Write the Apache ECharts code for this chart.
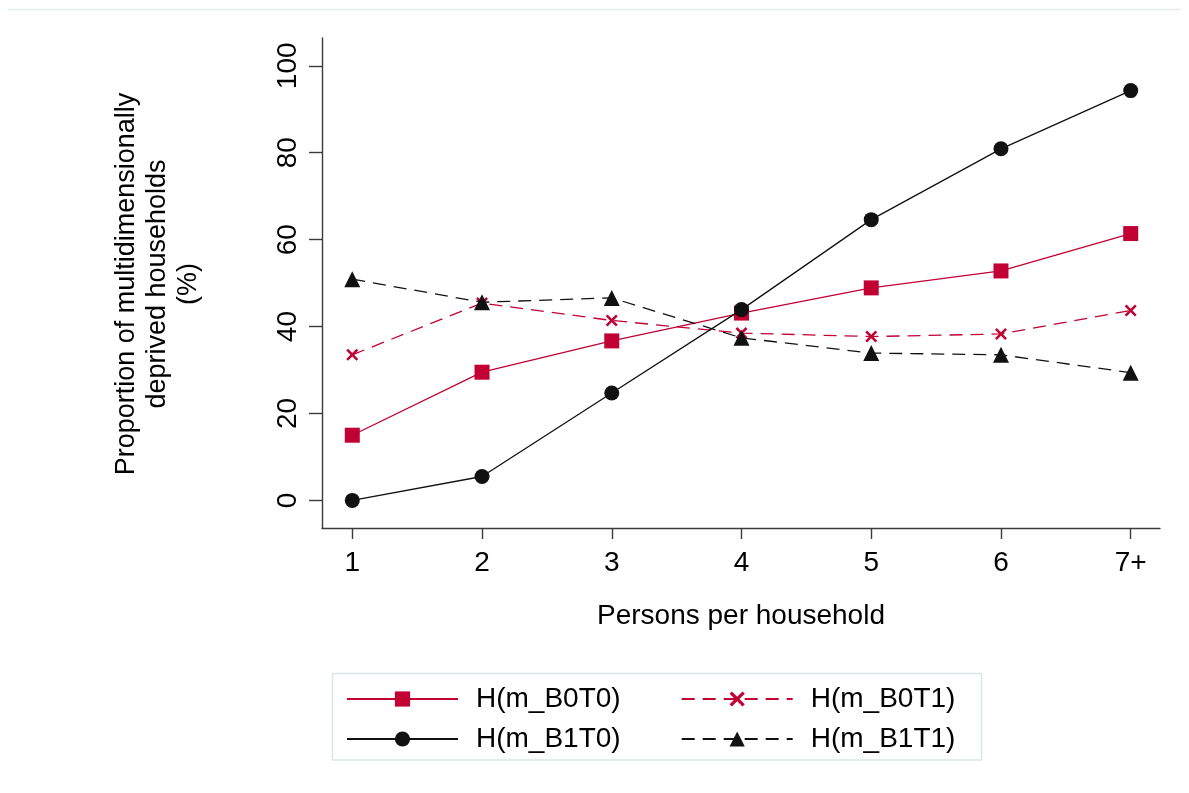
<!DOCTYPE html>
<html>
<head>
<meta charset="utf-8">
<script src="https://cdn.jsdelivr.net/npm/echarts@6/dist/echarts.min.js"></script>
<style>
  html, body { margin: 0; padding: 0; background: #ffffff; }
  #chart { width: 1189px; height: 793px; }
</style>
</head>
<body>
<div id="chart"></div>
<script>
// Household size categories (x axis)
const categories = ['1', '2', '3', '4', '5', '6', '7+'];
// Y tick values
const yTicks = [0, 20, 40, 60, 80, 100];

// Proportion of multidimensionally deprived households (%)
const hB0T0 = [15.0, 29.5, 36.7, 43.1, 48.9, 52.8, 61.4];
const hB0T1 = [33.5, 45.4, 41.4, 38.5, 37.7, 38.3, 43.7];
const hB1T0 = [0.0, 5.5, 24.7, 43.9, 64.6, 80.9, 94.3];
const hB1T1 = [50.9, 45.6, 46.6, 37.4, 33.9, 33.5, 29.4];

const seriesNames = ['H(m_B0T0)', 'H(m_B0T1)', 'H(m_B1T0)', 'H(m_B1T1)'];

const RED = '#c10034';
const BLACK = '#111111';
const AXIS = '#3a3a3a';
const FONT = 'Liberation Sans, Arial, sans-serif';
const crossPath = 'path://M1.5,0 L5,3.5 L8.5,0 L10,1.5 L6.5,5 L10,8.5 L8.5,10 L5,6.5 L1.5,10 L0,8.5 L3.5,5 L0,1.5 Z';

const toPoints = arr => arr.map((v, i) => [i + 1, v]);

const chart = echarts.init(document.getElementById('chart'), null, { renderer: 'canvas' });

const legendText = { color: '#000', fontSize: 28, fontFamily: FONT, padding: [0, 0, 0, 13] };
const legendBase = {
  left: 346, orient: 'horizontal', padding: 0,
  itemWidth: 111, itemHeight: 19, itemGap: 60,
  textStyle: legendText, selectedMode: false
};

chart.setOption({
  backgroundColor: '#ffffff',
  animation: false,
  textStyle: { fontFamily: FONT },
  grid: { left: 322, right: 29, top: 38, bottom: 265, containLabel: false },
  xAxis: {
    type: 'value',
    min: 0.7666,
    max: 7.2257,
    name: 'Persons per household',
    nameLocation: 'middle',
    nameGap: 74,
    nameTextStyle: { color: '#000', fontSize: 28, fontFamily: FONT },
    splitLine: { show: false },
    axisLine: { show: true, onZero: false, lineStyle: { color: AXIS, width: 1.4 } },
    axisTick: { show: true, length: 11, customValues: [1, 2, 3, 4, 5, 6, 7], lineStyle: { color: AXIS, width: 1.4 } },
    axisLabel: {
      customValues: [1, 2, 3, 4, 5, 6, 7],
      margin: 21,
      color: '#000',
      fontSize: 28,
      fontFamily: FONT,
      formatter: v => categories[Math.round(v) - 1]
    }
  },
  yAxis: {
    type: 'value',
    min: -6.35,
    max: 106.4,
    splitLine: { show: false },
    axisLine: { show: true, onZero: false, lineStyle: { color: AXIS, width: 1.4 } },
    axisTick: { show: true, length: 13, customValues: yTicks, lineStyle: { color: AXIS, width: 1.4 } },
    axisLabel: {
      customValues: yTicks,
      rotate: 90,
      margin: 20,
      color: '#000',
      fontSize: 28,
      fontFamily: FONT
    }
  },
  legend: [
    Object.assign({ data: [seriesNames[0], seriesNames[1]], top: 685 }, legendBase),
    Object.assign({ data: [seriesNames[2], seriesNames[3]], top: 725 }, legendBase)
  ],
  graphic: [
    {
      type: 'line',
      shape: { x1: 8, y1: 9.5, x2: 1181, y2: 9.5 },
      style: { stroke: '#e6edef', lineWidth: 1.5 }
    },
    {
      type: 'rect',
      shape: { x: 332.5, y: 673.5, width: 649, height: 86.5 },
      style: { fill: 'none', stroke: '#dce6ea', lineWidth: 1.5 }
    },
    {
      type: 'text',
      x: 158, y: 284,
      rotation: Math.PI / 2,
      style: {
        text: 'Proportion of multidimensionally\ndeprived households\n(%)',
        fill: '#000',
        font: '27px ' + FONT,
        align: 'center',
        verticalAlign: 'middle',
        lineHeight: 31
      }
    }
  ],
  series: [
    {
      name: seriesNames[0], type: 'line', data: toPoints(hB0T0),
      symbol: 'rect', symbolSize: 15,
      itemStyle: { color: RED },
      lineStyle: { color: RED, width: 1.3, type: 'solid' },
      z: 3
    },
    {
      name: seriesNames[1], type: 'line', data: toPoints(hB0T1),
      symbol: crossPath, symbolSize: 12,
      itemStyle: { color: RED },
      lineStyle: { color: RED, width: 1.3, type: [13, 8] },
      z: 2
    },
    {
      name: seriesNames[2], type: 'line', data: toPoints(hB1T0),
      symbol: 'circle', symbolSize: 15,
      itemStyle: { color: BLACK },
      lineStyle: { color: BLACK, width: 1.3, type: 'solid' },
      z: 4
    },
    {
      name: seriesNames[3], type: 'line', data: toPoints(hB1T1),
      symbol: 'triangle', symbolSize: 16,
      itemStyle: { color: BLACK },
      lineStyle: { color: BLACK, width: 1.3, type: [13, 8] },
      z: 5
    }
  ]
});
</script>
</body>
</html>
